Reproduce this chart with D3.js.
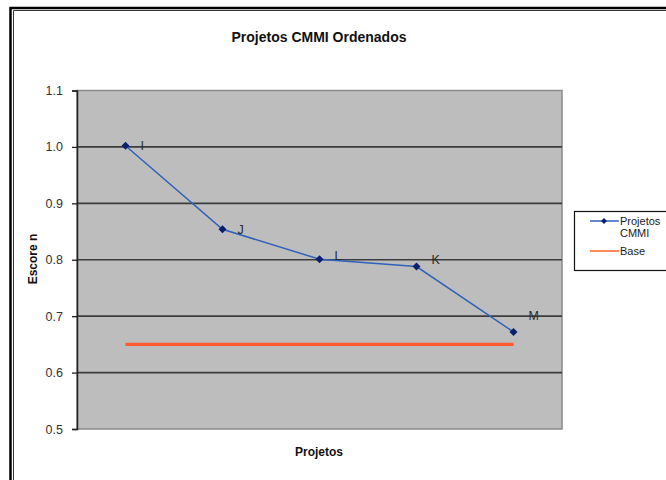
<!DOCTYPE html>
<html><head><meta charset="utf-8">
<script src="https://cdn.jsdelivr.net/npm/d3@7"></script>
<style>body{margin:0;background:#fff}svg{display:block}text{font-family:"Liberation Sans",Arial,sans-serif}</style>
</head><body>
<script>
const categories = ["I", "J", "L", "K", "M"];
const scores = [1.002, 0.854, 0.801, 0.788, 0.672];
const baseValues = [0.65, 0.65, 0.65, 0.65, 0.65];
const yTicks = [0.5, 0.6, 0.7, 0.8, 0.9, 1.0, 1.1];
const labelDy = [0, 0, -4, -7, -16];

const W = 666, H = 480;
const svg = d3.select("body").append("svg").attr("width", W).attr("height", H);

// outer frame
svg.append("path").attr("d", `M10.5,${H+5}V8H${W+5}`).attr("fill","none").attr("stroke","#000").attr("stroke-width",2.5);
svg.append("path").attr("d", `M13.5,${H+5}V10.5H${W+5}`).attr("fill","none").attr("stroke","#333").attr("stroke-width",1);

const L = 77, R = 562, T = 90.5, B = 429;
const x = d3.scaleBand().domain(categories).range([L, R]);
const y = d3.scaleLinear().domain([0.5, 1.1]).range([B, T]);
const cx = c => x(c) + x.bandwidth() / 2;

svg.append("rect").attr("x", L).attr("y", T).attr("width", R - L).attr("height", B - T)
  .attr("fill", "#bdbdbd").attr("stroke", "#8a8a8a").attr("stroke-width", 1.5);

// gridlines
svg.append("g").selectAll("line").data(yTicks.filter(t => t > 0.5 && t < 1.1)).join("line")
  .attr("x1", L).attr("x2", R).attr("y1", d => y(d)).attr("y2", d => y(d))
  .attr("stroke", "#3c3c3c").attr("stroke-width", 1.6);

// y axis
const yAxis = d3.axisLeft(y).tickValues(yTicks).tickFormat(d3.format(".1f")).tickSize(5).tickPadding(9);
const ga = svg.append("g").attr("transform", `translate(${L},0)`).call(yAxis);
ga.select(".domain").attr("stroke", "#222").attr("stroke-width", 1.5);
ga.selectAll(".tick line").attr("stroke", "#222").attr("stroke-width", 1.3);
ga.selectAll("text").attr("font-size", 12.5).attr("fill", "#333");

// base line
svg.append("line")
  .attr("x1", cx(categories[0])).attr("x2", cx(categories[categories.length - 1]))
  .attr("y1", y(baseValues[0])).attr("y2", y(baseValues[baseValues.length - 1]))
  .attr("stroke", "#ff5b2e").attr("stroke-width", 3.2);

// series line
const pts = categories.map((c, i) => [cx(c), y(scores[i])]);
svg.append("path").attr("d", d3.line()(pts)).attr("fill", "none")
  .attr("stroke", "#2f62b8").attr("stroke-width", 1.5);

const sym = d3.symbol().type(d3.symbolSquare).size(32);
svg.append("g").selectAll("path").data(pts).join("path")
  .attr("transform", d => `translate(${d[0]},${d[1]}) rotate(45)`).attr("d", sym).attr("fill", "#0a1f6e");

svg.append("g").selectAll("text").data(categories).join("text")
  .attr("x", c => cx(c) + 15).attr("y", (c, i) => y(scores[i]) + labelDy[i])
  .attr("dy", "0.35em").attr("font-size", 12.5).attr("fill", "#2a2a2a").text(c => c);

// titles
svg.append("text").attr("x", 319).attr("y", 37).attr("dy", "0.35em").attr("text-anchor", "middle")
  .attr("font-size", 14).attr("font-weight", "bold").attr("fill", "#111").text("Projetos CMMI Ordenados");
svg.append("text").attr("x", 319).attr("y", 452).attr("dy", "0.35em").attr("text-anchor", "middle")
  .attr("font-size", 12).attr("font-weight", "bold").attr("fill", "#111").text("Projetos");
svg.append("text").attr("transform", "translate(33,259) rotate(-90)").attr("dy", "0.35em").attr("text-anchor", "middle")
  .attr("font-size", 12).attr("font-weight", "bold").attr("fill", "#111").text("Escore n");

// legend
const lg = svg.append("g");
lg.append("rect").attr("x", 574.5).attr("y", 211.5).attr("width", 100).attr("height", 59)
  .attr("fill", "#fff").attr("stroke", "#111").attr("stroke-width", 1.2);
lg.append("line").attr("x1", 590).attr("x2", 619).attr("y1", 221).attr("y2", 221).attr("stroke", "#2f62b8").attr("stroke-width", 1.5);
lg.append("path").attr("transform", "translate(604,221) rotate(45)").attr("d", d3.symbol().type(d3.symbolSquare).size(18)).attr("fill", "#0a1f6e");
lg.append("text").attr("x", 620).attr("y", 221).attr("dy", "0.35em").attr("font-size", 11).attr("fill", "#222").text("Projetos");
lg.append("text").attr("x", 620).attr("y", 233).attr("dy", "0.35em").attr("font-size", 11).attr("fill", "#222").text("CMMI");
lg.append("line").attr("x1", 590).attr("x2", 619).attr("y1", 251).attr("y2", 251).attr("stroke", "#ff8a5e").attr("stroke-width", 2);
lg.append("text").attr("x", 620).attr("y", 251).attr("dy", "0.35em").attr("font-size", 11).attr("fill", "#222").text("Base");
</script>
</body></html>
